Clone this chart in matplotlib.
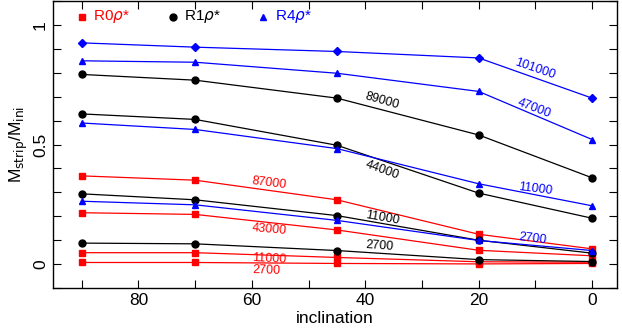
import matplotlib.pyplot as plt
from matplotlib.ticker import MultipleLocator

plt.rcParams['font.family'] = ['Liberation Sans', 'DejaVu Sans']
plt.rcParams['mathtext.fontset'] = 'dejavusans'

incl = [90, 70, 45, 20, 0]

# R0 rho* (red squares)
r0_87000 = [0.369, 0.351, 0.269, 0.125, 0.064]
r0_43000 = [0.215, 0.208, 0.143, 0.058, 0.035]
r0_11000 = [0.048, 0.048, 0.028, 0.010, 0.008]
r0_2700 = [0.007, 0.007, 0.003, 0.001, 0.003]

# R1 rho* (black circles)
r1_89000 = [0.793, 0.769, 0.694, 0.540, 0.361]
r1_44000 = [0.628, 0.605, 0.497, 0.297, 0.192]
r1_11000 = [0.294, 0.269, 0.203, 0.100, 0.046]
r1_2700 = [0.088, 0.085, 0.057, 0.019, 0.011]

# R4 rho* (blue)
r4_101000 = [0.925, 0.907, 0.889, 0.862, 0.694]
r4_47000 = [0.850, 0.844, 0.798, 0.722, 0.521]
r4_11000 = [0.590, 0.563, 0.483, 0.336, 0.244]
r4_2700 = [0.263, 0.248, 0.183, 0.099, 0.057]

series = [
    (r0_87000, 'red', 's', '87000', 57, 0.338, -7),
    (r0_43000, 'red', 's', '43000', 57, 0.143, -5),
    (r0_11000, 'red', 's', '11000', 57, 0.022, -3),
    (r0_2700, 'red', 's', '2700', 57.5, -0.028, -2),
    (r1_89000, 'black', 'o', '89000', 37, 0.682, -16),
    (r1_44000, 'black', 'o', '44000', 37, 0.393, -20),
    (r1_11000, 'black', 'o', '11000', 37, 0.192, -10),
    (r1_2700, 'black', 'o', '2700', 37.5, 0.077, -4),
    (r4_101000, 'blue', 'D', '101000', 10, 0.814, -19),
    (r4_47000, 'blue', '^', '47000', 10.3, 0.651, -21),
    (r4_11000, 'blue', '^', '11000', 10, 0.313, -7),
    (r4_2700, 'blue', '^', '2700', 10.5, 0.105, -7),
]

fig = plt.figure(figsize=(6.22, 3.30), dpi=100)
ax = fig.add_axes([0.085, 0.127, 0.907, 0.870])

for vals, col, mk, lab, tx, ty, rot in series:
    ms = 4.5 if mk == 'D' else 5
    ax.plot(incl, vals, color=col, marker=mk, markersize=ms, lw=0.9)
    ax.text(tx, ty, lab, color=col, fontsize=9, rotation=rot,
            ha='center', va='center')

# legend drawn as marker + label at top of panel
leg = [('red', 's', r'R0$\rho$*', 90), ('black', 'o', r'R1$\rho$*', 74), ('blue', '^', r'R4$\rho$*', 58)]
for col, mk, lab, lx in leg:
    ax.plot([lx], [1.035], marker=mk, color=col, markersize=5, ls='none')
    ax.text(lx - 2.0, 1.035, lab, color=col, fontsize=11, va='center', ha='left')

ax.set_xlim(95.1, -4.4)
ax.set_ylim(-0.1, 1.1)
ax.xaxis.set_major_locator(MultipleLocator(20))
ax.xaxis.set_minor_locator(MultipleLocator(10))
ax.yaxis.set_major_locator(MultipleLocator(0.5))
ax.yaxis.set_minor_locator(MultipleLocator(0.1))
ax.set_yticks([0, 0.5, 1])
ax.set_yticklabels(['0', '0.5', '1'], rotation=90, va='center')
ax.tick_params(which='both', direction='in', top=True, right=True, length=6, width=0.8, labelsize=12.5)
ax.set_xlabel('inclination', fontsize=12.5, labelpad=2)
ax.set_ylabel(r'M$_{\rm strip}$/M$_{\rm ini}$', fontsize=12.5, labelpad=2)
for s in ax.spines.values():
    s.set_linewidth(1.0)

fig.savefig('out.png', dpi=100)
